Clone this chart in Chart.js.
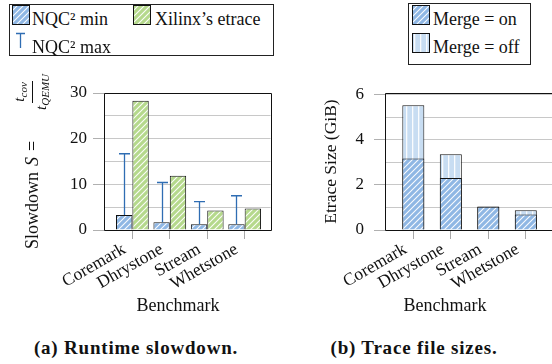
<!DOCTYPE html>
<html><head><meta charset="utf-8">
<script src="https://cdn.jsdelivr.net/npm/chart.js@4.4.1/dist/chart.umd.min.js"></script>
<style>
html,body{margin:0;padding:0;background:#fff;width:552px;height:364px;overflow:hidden;}
body{position:relative;font-family:'Liberation Serif','Tinos','Times New Roman','DejaVu Serif',serif;color:#111;}
canvas{position:absolute;}
.abs{position:absolute;white-space:nowrap;}
.legend{position:absolute;border:1px solid #222;box-sizing:border-box;background:#fff;}
.lt{position:absolute;font-size:18px;line-height:20px;white-space:nowrap;}
.xt{position:absolute;font-size:18px;line-height:20px;width:120px;text-align:center;}
.cap{position:absolute;font-weight:bold;font-size:19px;letter-spacing:0.8px;line-height:22px;width:240px;text-align:center;white-space:nowrap;}
.frac{display:inline-flex;flex-direction:column;align-items:center;vertical-align:middle;font-size:15px;line-height:15px;margin-left:24px;}
.frac .num{border-bottom:1px solid #111;padding:0 1px 1px 1px;}
.frac .den{padding:1px 1px 0 1px;}
.frac sub{font-size:11px;vertical-align:-3px;}
.sv{margin-left:6px;}
.eq{margin:0 6px;}
</style></head>
<body>
<canvas id="c1" width="282" height="300" style="left:0;top:0"></canvas>
<canvas id="c2" width="272" height="300" style="left:290px;top:0"></canvas>

<div class="legend" style="left:9px;top:4px;width:265px;height:52px;"></div>
<canvas id="sw1" width="18" height="20" style="left:12px;top:5px"></canvas>
<span class="lt" style="left:32px;top:9px">NQC² min</span>
<canvas id="sw2" width="18" height="20" style="left:133px;top:5px"></canvas>
<span class="lt" style="left:155px;top:9px">Xilinx’s etrace</span>
<canvas id="sw3" width="18" height="20" style="left:12px;top:31px"></canvas>
<span class="lt" style="left:32px;top:37px">NQC² max</span>

<div class="legend" style="left:408px;top:3px;width:123px;height:62px;"></div>
<canvas id="sw4" width="18" height="20" style="left:412px;top:5px"></canvas>
<span class="lt" style="left:433px;top:9px">Merge = on</span>
<canvas id="sw5" width="18" height="20" style="left:412px;top:33px"></canvas>
<span class="lt" style="left:433px;top:37px">Merge = off</span>

<div class="abs" style="left:-70px;top:145px;width:204px;height:32px;transform:rotate(-90deg);display:flex;align-items:center;justify-content:center;font-size:18px;">
Slowdown<i class="sv">S</i><span class="eq">=</span><span class="frac"><span class="num"><i>t</i><sub><i>cov</i></sub></span><span class="den"><i>t</i><sub><i>QEMU</i></sub></span></span>
</div>

<div class="xt" style="left:118px;top:295px">Benchmark</div>
<div class="xt" style="left:385px;top:295px">Benchmark</div>
<div class="cap" style="left:16px;top:337px">(a) Runtime slowdown.</div>
<div class="cap" style="left:294px;top:337px">(b) Trace file sizes.</div>

<script>
const benchmarks = ['Coremark', 'Dhrystone', 'Stream', 'Whetstone'];
const nqcMin = [3.3, 1.7, 1.25, 1.25];
const nqcMax = [16.7, 10.4, 6.2, 7.5];
const xilinxEtrace = [28.3, 11.9, 4.25, 4.7];
const mergeOn = [3.17, 2.3, 1.03, 0.69];
const mergeOff = [5.53, 3.36, 1.04, 0.87];
const slowdownTicks = [0, 5, 10, 15, 20, 25, 30];
const slowdownLabels = [0, 10, 20, 30];
const sizeTicks = [0, 1, 2, 3, 4, 5, 6];
const sizeLabels = [0, 2, 4, 6];

const BLUE = '#8fb7e4', GREEN = '#b5d98c', LBLUE = '#c8ddf2', ERR = '#2f6db3';
const FONT = "'Liberation Serif', 'Tinos', 'Times New Roman', 'DejaVu Serif', serif";
Chart.defaults.font.family = FONT;
Chart.defaults.color = '#111';

function diagPattern(bg) {
  const s = 6, c = document.createElement('canvas'); c.width = c.height = s;
  const g = c.getContext('2d');
  g.fillStyle = bg; g.fillRect(0, 0, s, s);
  g.strokeStyle = 'rgba(255,255,255,0.95)'; g.lineWidth = 1.1;
  g.beginPath();
  g.moveTo(0, s); g.lineTo(s, 0);
  g.moveTo(-s, s); g.lineTo(s, -s);
  g.moveTo(0, 2 * s); g.lineTo(2 * s, 0);
  g.stroke();
  return document.createElement('canvas').getContext('2d').createPattern(c, 'repeat');
}
function vertPattern(bg) {
  const s = 6, c = document.createElement('canvas'); c.width = c.height = s;
  const g = c.getContext('2d');
  g.fillStyle = bg; g.fillRect(0, 0, s, s);
  g.fillStyle = 'rgba(255,255,255,0.9)'; g.fillRect(2, 0, 1.3, s);
  return document.createElement('canvas').getContext('2d').createPattern(c, 'repeat');
}
const bluePat = diagPattern(BLUE), greenPat = diagPattern(GREEN), offPat = vertPattern(LBLUE);

function swatch(id, pat) {
  const c = document.getElementById(id), g = c.getContext('2d');
  g.fillStyle = pat; g.fillRect(0, 0, c.width, c.height);
  g.strokeStyle = '#111'; g.lineWidth = 1; g.strokeRect(0.5, 0.5, c.width - 1, c.height - 1);
}
swatch('sw1', bluePat); swatch('sw2', greenPat); swatch('sw4', bluePat); swatch('sw5', offPat);
(function () {
  const g = document.getElementById('sw3').getContext('2d');
  g.strokeStyle = ERR; g.lineWidth = 1.3;
  g.beginPath(); g.moveTo(8.5, 2); g.lineTo(8.5, 17); g.moveTo(4, 2.5); g.lineTo(13, 2.5); g.stroke();
})();

const framePlugin = {
  id: 'frame',
  afterDraw(chart) {
    const { ctx, chartArea: a } = chart;
    ctx.save(); ctx.strokeStyle = '#111'; ctx.lineWidth = 1;
    const l = Math.round(a.left) + 0.5, t = Math.round(a.top) + 0.5, r = Math.round(a.right) + 0.5, b = Math.round(a.bottom) + 0.5;
    ctx.beginPath(); ctx.moveTo(r, t); ctx.lineTo(l, t); ctx.lineTo(l, b); ctx.lineTo(r, b); ctx.lineTo(r, t); ctx.stroke();
    ctx.restore();
  }
};
const errorPlugin = {
  id: 'errbars',
  afterDatasetsDraw(chart) {
    const { ctx } = chart, y = chart.scales.y, meta = chart.getDatasetMeta(0);
    ctx.save(); ctx.strokeStyle = ERR; ctx.lineWidth = 1.3;
    meta.data.forEach((bar, i) => {
      const top = y.getPixelForValue(nqcMax[i]);
      const x = Math.round(bar.x) + 0.5;
      ctx.beginPath(); ctx.moveTo(x, bar.y); ctx.lineTo(x, top);
      ctx.moveTo(x - 5.5, top); ctx.lineTo(x + 5.5, top); ctx.stroke();
    });
    ctx.restore();
  }
};

function xScale(min, max) {
  return {
    type: 'linear', min, max, offset: false,
    afterFit: s => { s.height = 70; },
    afterBuildTicks: s => { s.ticks = benchmarks.map((_, i) => ({ value: i })); },
    ticks: { callback: v => benchmarks[v], minRotation: 30, maxRotation: 30, autoSkip: false,
             font: { size: 17.5 }, padding: 0, labelOffset: -8 },
    grid: { drawOnChartArea: false, offset: false, color: '#a8a8a8', tickLength: 9 },
    border: { display: false }
  };
}
function yScale(max, ticks, labels, width, pad, title) {
  return {
    min: 0, max,
    afterFit: s => { s.width = width; },
    afterBuildTicks: s => { s.ticks = ticks.map(v => ({ value: v })); },
    ticks: { callback: v => labels.includes(v) ? String(v) : '', font: { size: 17 }, padding: pad, autoSkip: false },
    grid: { color: '#c8c8c8', borderDash: [6, 4], tickLength: 11,
            tickColor: c => (c.tick && labels.includes(c.tick.value)) ? '#b0b0b0' : 'rgba(0,0,0,0)' },
    border: { display: false },
    title: title || { display: false }
  };
}

new Chart(document.getElementById('c1'), {
  type: 'bar',
  data: {
    datasets: [
      { label: 'NQC² min', data: nqcMin.map((v, i) => ({ x: i, y: v })), backgroundColor: bluePat, borderColor: '#111', borderWidth: 1 },
      { label: 'Xilinx’s etrace', data: xilinxEtrace.map((v, i) => ({ x: i, y: v })), backgroundColor: greenPat, borderColor: '#111', borderWidth: 1 }
    ]
  },
  options: {
    responsive: false, animation: false, events: [],
    layout: { padding: { top: 93, right: 11.5, left: 0, bottom: 0 } },
    plugins: { legend: { display: false }, tooltip: { enabled: false } },
    datasets: { bar: { categoryPercentage: 0.875, barPercentage: 1 } },
    scales: {
      x: xScale(-0.758, 3.69),
      y: yScale(30, slowdownTicks, slowdownLabels, 104, 6)
    }
  },
  plugins: [framePlugin, errorPlugin]
});

new Chart(document.getElementById('c2'), {
  type: 'bar',
  data: {
    datasets: [
      { label: 'Merge = on', data: mergeOn.map((v, i) => ({ x: i, y: v })), backgroundColor: bluePat, borderColor: '#111', borderWidth: 1 },
      { label: 'Merge = off', data: mergeOff.map((v, i) => ({ x: i, y: v })), backgroundColor: offPat, borderColor: '#111', borderWidth: 1 }
    ]
  },
  options: {
    responsive: false, animation: false, events: [],
    layout: { padding: { top: 93, right: 8, left: 0, bottom: 0 } },
    plugins: { legend: { display: false }, tooltip: { enabled: false } },
    datasets: { bar: { categoryPercentage: 0.587, barPercentage: 1 } },
    scales: {
      x: Object.assign(xScale(-0.755, 3.752), { stacked: true }),
      y: Object.assign(yScale(6.07, sizeTicks, sizeLabels, 95, 10,
           { display: true, text: 'Etrace Size (GiB)', font: { size: 17.5 }, padding: { top: 31, bottom: 0 } }), { stacked: false })
    }
  },
  plugins: [framePlugin]
});
</script>
</body></html>
